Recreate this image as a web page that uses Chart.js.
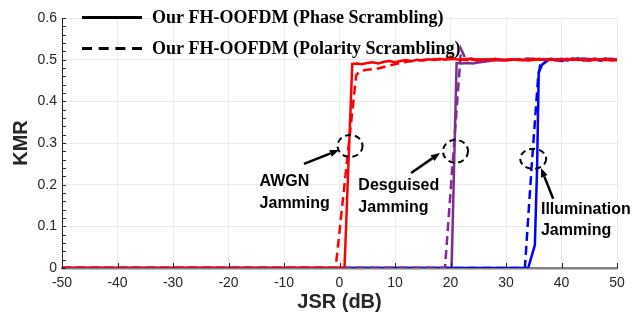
<!DOCTYPE html>
<html>
<head>
<meta charset="utf-8">
<title>KMR vs JSR</title>
<script src="https://cdn.jsdelivr.net/npm/chart.js@4.4.1/dist/chart.umd.min.js"></script>
<style>
  html, body { margin: 0; padding: 0; background: #ffffff; }
  canvas { display: block; }
</style>
</head>
<body>
<canvas id="kmr" width="633" height="326"></canvas>
<script>
// KMR against JSR for three jamming types, two scrambling schemes each
const awgnPhaseX = [-50, 0.9, 2.3, 3, 4, 5, 6, 7, 8, 9, 10, 11, 12, 13, 14, 15, 16, 17, 18, 19, 20, 21, 22, 23, 24, 25, 26, 27, 28, 29, 30, 31, 32, 33, 34, 35, 36, 37, 38, 39, 40, 41, 42, 43, 44, 45, 46, 47, 48, 49, 50];
const awgnPhaseY = [0, 0, 0.490, 0.491, 0.489, 0.492, 0.494, 0.491, 0.495, 0.497, 0.494, 0.497, 0.499, 0.496, 0.500, 0.498, 0.501, 0.499, 0.502, 0.500, 0.507, 0.501, 0.499, 0.502, 0.500, 0.498, 0.501, 0.499, 0.502, 0.500, 0.498, 0.501, 0.499, 0.500, 0.498, 0.500, 0.502, 0.499, 0.501, 0.498, 0.500, 0.502, 0.499, 0.501, 0.498, 0.500, 0.502, 0.499, 0.500, 0.498, 0.499];

const awgnPolarityX = [-50, -0.7, 3.0, 3.6, 5, 7, 9, 11, 13, 15, 17, 19, 21, 23, 25, 27, 29, 31, 33, 35, 37, 39, 41, 43, 45, 47, 49, 50];
const awgnPolarityY = [0, 0, 0.462, 0.472, 0.476, 0.479, 0.486, 0.492, 0.497, 0.499, 0.501, 0.500, 0.502, 0.499, 0.501, 0.500, 0.498, 0.501, 0.499, 0.501, 0.500, 0.502, 0.499, 0.501, 0.498, 0.500, 0.501, 0.499];

const disguisedPhaseX = [-50, 20.2, 21.1, 22, 23, 24, 25, 26, 27, 28, 29, 30, 31, 32, 33, 34, 35, 36, 37, 38, 39, 40, 41, 42, 43, 44, 45, 46, 47, 48, 49, 50];
const disguisedPhaseY = [0, 0, 0.492, 0.491, 0.492, 0.491, 0.493, 0.495, 0.497, 0.499, 0.498, 0.500, 0.499, 0.501, 0.499, 0.500, 0.502, 0.500, 0.499, 0.501, 0.500, 0.498, 0.501, 0.500, 0.502, 0.499, 0.501, 0.500, 0.498, 0.501, 0.502, 0.500];

const disguisedPolarityX = [-50, 19.0, 21.6, 21.9, 22.6, 24, 25, 26, 28, 30, 32, 34, 36, 38, 40, 42, 44, 46, 48, 50];
const disguisedPolarityY = [0, 0, 0.470, 0.525, 0.505, 0.502, 0.497, 0.500, 0.502, 0.499, 0.501, 0.503, 0.500, 0.502, 0.499, 0.501, 0.503, 0.500, 0.502, 0.501];

const illumPhaseX = [-50, 34.0, 35.2, 35.6, 35.9, 36.5, 37.4, 38, 39, 40, 41, 42, 43, 44, 45, 46, 47, 48, 49, 50];
const illumPhaseY = [0, 0, 0.055, 0.24, 0.47, 0.488, 0.497, 0.501, 0.499, 0.502, 0.498, 0.501, 0.503, 0.499, 0.500, 0.502, 0.498, 0.501, 0.500, 0.499];

const illumPolarityX = [-50, 33.4, 34.6, 35.8, 36.2, 37, 38, 39, 40, 41, 42, 43, 44, 45, 46, 47, 48, 49, 50];
const illumPolarityY = [0, 0, 0.24, 0.46, 0.49, 0.498, 0.502, 0.500, 0.497, 0.501, 0.503, 0.499, 0.501, 0.498, 0.502, 0.500, 0.503, 0.499, 0.501];

const legendLabels = ['Our FH-OOFDM (Phase Scrambling)', 'Our FH-OOFDM (Polarity Scrambling)'];

const RED = '#ff0000';
const PURPLE = '#7e2f8e';
const BLUE = '#0000ff';
const DASH = [9, 5];
const SANS = "'Liberation Sans', Arial, sans-serif";
const SERIF = "'Liberation Serif', 'Times New Roman', serif";
const INK = '#262626';

function toPoints(xs, ys) {
    return xs.map((x, i) => ({ x: x, y: ys[i] }));
}

// dataset 0 ends up on top, so the red curves come first
const datasets = [
    { data: toPoints(awgnPhaseX, awgnPhaseY), borderColor: RED },
    { data: toPoints(awgnPolarityX, awgnPolarityY), borderColor: RED, borderDash: DASH },
    { data: toPoints(disguisedPolarityX, disguisedPolarityY), borderColor: PURPLE, borderDash: DASH },
    { data: toPoints(illumPolarityX, illumPolarityY), borderColor: BLUE, borderDash: DASH },
    { data: toPoints(illumPhaseX, illumPhaseY), borderColor: BLUE },
    { data: toPoints(disguisedPhaseX, disguisedPhaseY), borderColor: PURPLE }
];

// MATLAB style ticks pointing into the plot
const inwardTicks = {
    id: 'inwardTicks',
    afterDraw(chart) {
        const { ctx, chartArea, scales } = chart;
        ctx.save();
        ctx.strokeStyle = INK;
        ctx.lineWidth = 1;
        ctx.beginPath();
        for (let v = 0; v <= 0.6001; v += 0.02) {
            const y = Math.round(scales.y.getPixelForValue(v)) + 0.5;
            ctx.moveTo(chartArea.left, y);
            ctx.lineTo(chartArea.left + 4, y);
        }
        for (let v = -50; v <= 50; v += 10) {
            const x = Math.round(scales.x.getPixelForValue(v)) + 0.5;
            ctx.moveTo(x, chartArea.bottom);
            ctx.lineTo(x, chartArea.bottom - 5);
        }
        ctx.stroke();
        ctx.restore();
    }
};

function drawArrow(ctx, x0, y0, x1, y1) {
    const ang = Math.atan2(y1 - y0, x1 - x0);
    const len = 9, half = 3.5;
    const bx = x1 - len * Math.cos(ang), by = y1 - len * Math.sin(ang);
    ctx.beginPath();
    ctx.moveTo(x0, y0);
    ctx.lineTo(bx, by);
    ctx.stroke();
    ctx.beginPath();
    ctx.moveTo(x1, y1);
    ctx.lineTo(bx + half * Math.sin(ang), by - half * Math.cos(ang));
    ctx.lineTo(bx - half * Math.sin(ang), by + half * Math.cos(ang));
    ctx.closePath();
    ctx.fill();
}

// circled transitions, arrows and their captions (data coordinates)
const notes = [
    { ring: [1.9, 0.293, 12.5, 11], arrow: [-6.4, 0.250, -0.1, 0.283], text: ['AWGN', 'Jamming'], at: [-14.4, 0.198, 0.145] },
    { ring: [20.9, 0.280, 12.5, 11.5], arrow: [12.9, 0.228, 18.1, 0.276], text: ['Desguised', 'Jamming'], at: [3.4, 0.187, 0.134] },
    { ring: [34.9, 0.262, 13, 10], arrow: [38.5, 0.166, 36.3, 0.240], text: ['Illumination', 'Jamming'], at: [36.3, 0.130, 0.079] }
];

const annotate = {
    id: 'annotate',
    afterDatasetsDraw(chart) {
        const { ctx, scales } = chart;
        const px = v => scales.x.getPixelForValue(v);
        const py = v => scales.y.getPixelForValue(v);
        ctx.save();
        ctx.strokeStyle = '#000';
        ctx.fillStyle = '#000';
        notes.forEach(n => {
            ctx.lineWidth = 2;
            ctx.setLineDash([6, 4]);
            ctx.beginPath();
            ctx.ellipse(px(n.ring[0]), py(n.ring[1]), n.ring[2], n.ring[3], 0, 0, Math.PI * 2);
            ctx.stroke();
            ctx.setLineDash([]);
            ctx.lineWidth = 2.5;
            drawArrow(ctx, px(n.arrow[0]), py(n.arrow[1]), px(n.arrow[2]), py(n.arrow[3]));
            ctx.font = 'bold 16px ' + SANS;
            ctx.textAlign = 'left';
            ctx.textBaseline = 'alphabetic';
            ctx.fillText(n.text[0], px(n.at[0]), py(n.at[1]));
            ctx.fillText(n.text[1], px(n.at[0]), py(n.at[2]));
        });
        ctx.restore();
    }
};

const legendBlock = {
    id: 'legendBlock',
    afterDraw(chart) {
        const ctx = chart.ctx;
        ctx.save();
        ctx.strokeStyle = '#000';
        ctx.fillStyle = '#000';
        ctx.lineWidth = 3;
        ctx.beginPath();
        ctx.moveTo(82, 17.5);
        ctx.lineTo(142, 17.5);
        ctx.stroke();
        ctx.setLineDash([10, 6.7]);
        ctx.beginPath();
        ctx.moveTo(82, 48.5);
        ctx.lineTo(142, 48.5);
        ctx.stroke();
        ctx.setLineDash([]);
        ctx.font = 'bold 18px ' + SERIF;
        ctx.textAlign = 'left';
        ctx.textBaseline = 'alphabetic';
        ctx.fillText(legendLabels[0], 152, 22.5);
        ctx.fillText(legendLabels[1], 152, 53.5);
        ctx.restore();
    }
};

const chart = new Chart(document.getElementById('kmr').getContext('2d'), {
    type: 'line',
    data: { datasets: datasets },
    options: {
        responsive: false,
        animation: false,
        devicePixelRatio: 1,
        layout: { padding: { top: 18, right: 16, left: 0, bottom: 0 } },
        plugins: { legend: { display: false }, tooltip: { enabled: false } },
        elements: {
            point: { radius: 0 },
            line: { tension: 0, borderWidth: 2.5, fill: false }
        },
        scales: {
            x: {
                type: 'linear',
                min: -50,
                max: 50,
                ticks: { stepSize: 10, padding: 7, color: INK, font: { family: SANS, size: 14 } },
                grid: { color: '#ebebeb', drawTicks: false },
                border: { color: '#808080', width: 2.5 },
                title: { display: true, text: 'JSR (dB)', color: INK, font: { family: SANS, size: 20, weight: 'bold' }, padding: { top: 0, bottom: 12 } },
                afterFit(scale) { scale.height = 58; }
            },
            y: {
                type: 'linear',
                min: 0,
                max: 0.6,
                ticks: { stepSize: 0.1, padding: 5, color: INK, font: { family: SANS, size: 14 } },
                grid: { color: '#ebebeb', drawTicks: false },
                border: { color: INK, width: 1 },
                title: { display: true, text: 'KMR', color: INK, font: { family: SANS, size: 20, weight: 'bold' }, padding: { top: 9, bottom: 0 } },
                afterFit(scale) { scale.width = 62; }
            }
        }
    },
    plugins: [inwardTicks, annotate, legendBlock]
});
</script>
</body>
</html>
